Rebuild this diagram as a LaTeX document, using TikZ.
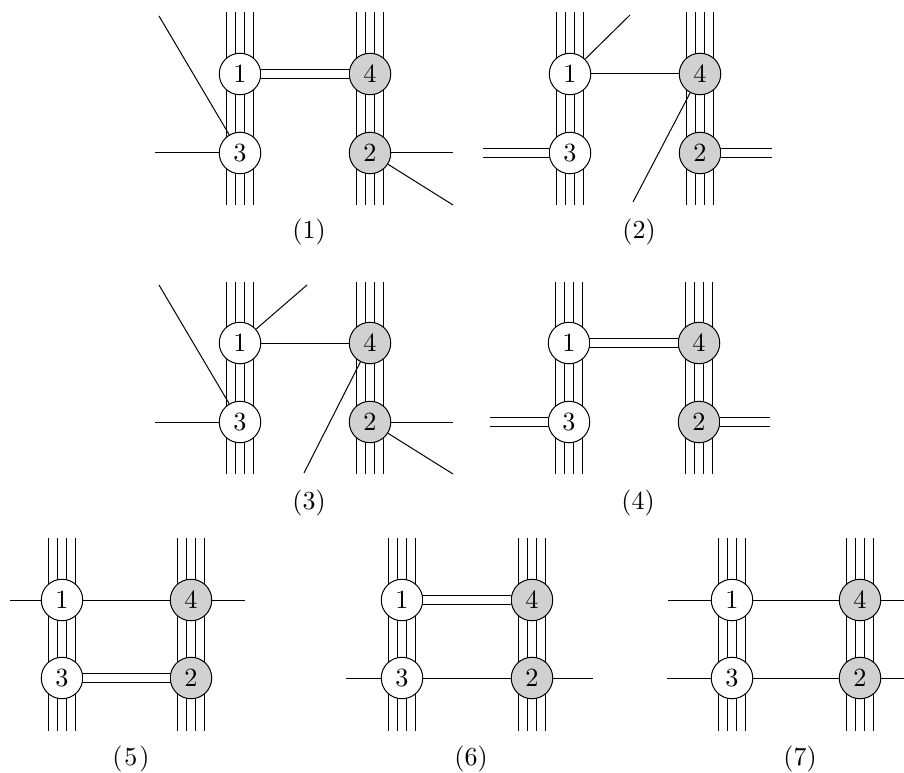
\documentclass[tikz,border=0pt]{standalone}
\usepackage{tikz}

\tikzset{
  vx/.style={circle, draw, fill=white, minimum size=16.6pt, inner sep=0pt, font=\fontsize{10.5}{12.5}\selectfont},
  vxg/.style={vx, fill=black!18},
  dbl/.style={double, double distance=3pt},
  lab/.style={font=\fontsize{10.4}{12.5}\selectfont}
}

\begin{document}
\begin{tikzpicture}[x=0.4pt, y=-0.4pt]
				\useasboundingbox (0,0) rectangle (904,772);
				
				% four strands behind each column
				\foreach \cx/\ya/\yb in {240/12/205, 370/12/205, 570/12/205, 700/12/205,
				                         240/282/474, 370/282/474, 569/282/474, 699/282/474,
				                         62/538/731, 191/538/731, 402/538/731, 532/538/731,
				                         732/538/731, 860/538/731}
				  \foreach \dx in {-13.5, -4.5, 4.5, 13.5}
				    \draw (\cx+\dx, \ya) -- (\cx+\dx, \yb);
				
				% (1)
				\node[vx] (a1) at (240,74) {1};
				\node[vxg] (a4) at (370,74) {4};
				\node[vx] (a3) at (240,153) {3};
				\node[vxg] (a2) at (370,153) {2};
				\coordinate (a3u) at (159,16);
				\coordinate (a3l) at (155,153);
				\coordinate (a2r) at (453,153);
				\coordinate (a2d) at (453,205);
				\draw[dbl] (a1) -- (a4);
				\draw (a3) -- (a3u);
				\draw (a3) -- (a3l);
				\draw (a2) -- (a2r);
				\draw (a2) -- (a2d);
				\node[lab] (la) at (309,232) {(1)};
				
				% (2)
				\node[vx] (b1) at (570,74) {1};
				\node[vxg] (b4) at (700,74) {4};
				\node[vx] (b3) at (570,153) {3};
				\node[vxg] (b2) at (700,153) {2};
				\coordinate (b1u) at (630,15);
				\coordinate (b4d) at (633,202);
				\coordinate (b3l) at (483,153);
				\coordinate (b2r) at (772,153);
				\draw (b1) -- (b4);
				\draw (b1) -- (b1u);
				\draw (b4) -- (b4d);
				\draw[dbl] (b3) -- (b3l);
				\draw[dbl] (b2) -- (b2r);
				\node[lab] (lb) at (639,232) {(2)};
				
				% (3)
				\node[vx] (c1) at (240,343) {1};
				\node[vxg] (c4) at (370,343) {4};
				\node[vx] (c3) at (240,422) {3};
				\node[vxg] (c2) at (370,422) {2};
				\coordinate (c3u) at (159,285);
				\coordinate (c3l) at (155,422);
				\coordinate (c1u) at (307,285);
				\coordinate (c4d) at (304,473);
				\coordinate (c2r) at (453,422);
				\coordinate (c2d) at (453,474);
				\draw (c1) -- (c4);
				\draw (c1) -- (c1u);
				\draw (c4) -- (c4d);
				\draw (c3) -- (c3u);
				\draw (c3) -- (c3l);
				\draw (c2) -- (c2r);
				\draw (c2) -- (c2d);
				\node[lab] (lc) at (309,503) {(3)};
				
				% (4)
				\node[vx] (d1) at (569,343) {1};
				\node[vxg] (d4) at (699,343) {4};
				\node[vx] (d3) at (569,422) {3};
				\node[vxg] (d2) at (699,422) {2};
				\coordinate (d3l) at (490,422);
				\coordinate (d2r) at (770,422);
				\draw[dbl] (d1) -- (d4);
				\draw[dbl] (d3) -- (d3l);
				\draw[dbl] (d2) -- (d2r);
				\node[lab] (ld) at (638,503) {(4)};
				
				% (5)
				\node[vx] (e1) at (62,600) {1};
				\node[vxg] (e4) at (191,600) {4};
				\node[vx] (e3) at (62,678) {3};
				\node[vxg] (e2) at (191,678) {2};
				\coordinate (e1l) at (10,600);
				\coordinate (e4r) at (245,600);
				\draw (e1) -- (e4);
				\draw (e1) -- (e1l);
				\draw (e4) -- (e4r);
				\draw[dbl] (e3) -- (e2);
				\node[lab] (le) at (131,759) {(\kern0.8pt5\kern0.8pt)};
				
				% (6)
				\node[vx] (f1) at (402,600) {1};
				\node[vxg] (f4) at (532,600) {4};
				\node[vx] (f3) at (402,678) {3};
				\node[vxg] (f2) at (532,678) {2};
				\coordinate (f3l) at (346,678);
				\coordinate (f2r) at (593,678);
				\draw[dbl] (f1) -- (f4);
				\draw (f3) -- (f2);
				\draw (f3) -- (f3l);
				\draw (f2) -- (f2r);
				\node[lab] (lf) at (471,759) {(6)};
				
				% (7)
				\node[vx] (g1) at (732,600) {1};
				\node[vxg] (g4) at (860,600) {4};
				\node[vx] (g3) at (732,678) {3};
				\node[vxg] (g2) at (860,678) {2};
				\coordinate (g1l) at (668,600);
				\coordinate (g4r) at (904,600);
				\coordinate (g3l) at (667,678);
				\coordinate (g2r) at (904,678);
				\draw (g1) -- (g4);
				\draw (g3) -- (g2);
				\draw (g1) -- (g1l);
				\draw (g4) -- (g4r);
				\draw (g3) -- (g3l);
				\draw (g2) -- (g2r);
				\node[lab] (lg) at (800,759) {(7)};
				\end{tikzpicture}
\end{document}
